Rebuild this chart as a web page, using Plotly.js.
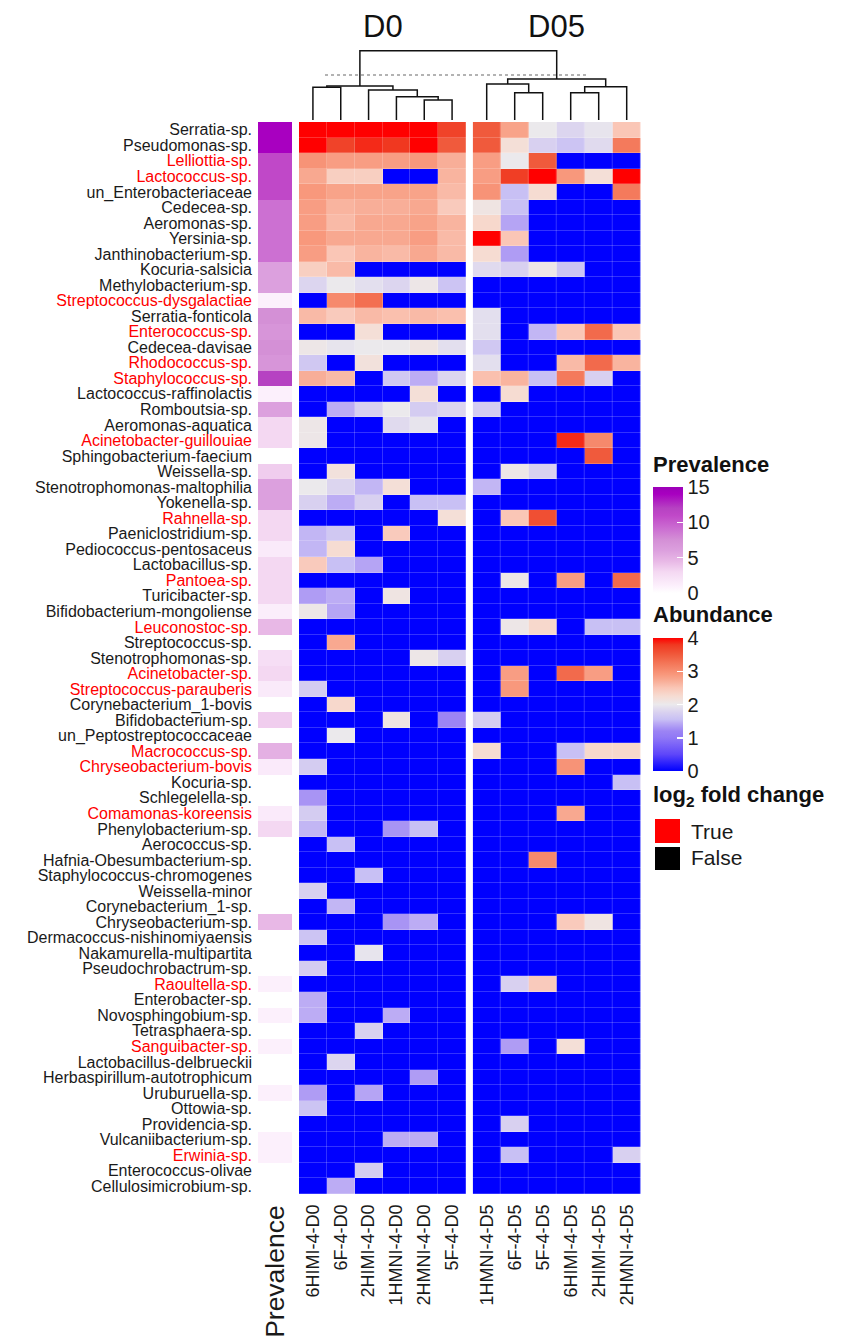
<!DOCTYPE html>
<html>
<head>
<meta charset="utf-8">
<script src="https://cdn.plot.ly/plotly-3.0.1.min.js"></script>
<style>
  html, body { margin: 0; padding: 0; background: #ffffff; }
  #chart { width: 842px; height: 1343px; }
</style>
</head>
<body>
<div id="chart"></div>
<script>
// ---- data ----
const species = [
  'Serratia-sp.', 'Pseudomonas-sp.', 'Lelliottia-sp.', 'Lactococcus-sp.', 'un_Enterobacteriaceae',
  'Cedecea-sp.', 'Aeromonas-sp.', 'Yersinia-sp.', 'Janthinobacterium-sp.', 'Kocuria-salsicia',
  'Methylobacterium-sp.', 'Streptococcus-dysgalactiae', 'Serratia-fonticola', 'Enterococcus-sp.', 'Cedecea-davisae',
  'Rhodococcus-sp.', 'Staphylococcus-sp.', 'Lactococcus-raffinolactis', 'Romboutsia-sp.', 'Aeromonas-aquatica',
  'Acinetobacter-guillouiae', 'Sphingobacterium-faecium', 'Weissella-sp.', 'Stenotrophomonas-maltophilia', 'Yokenella-sp.',
  'Rahnella-sp.', 'Paeniclostridium-sp.', 'Pediococcus-pentosaceus', 'Lactobacillus-sp.', 'Pantoea-sp.',
  'Turicibacter-sp.', 'Bifidobacterium-mongoliense', 'Leuconostoc-sp.', 'Streptococcus-sp.', 'Stenotrophomonas-sp.',
  'Acinetobacter-sp.', 'Streptococcus-parauberis', 'Corynebacterium_1-bovis', 'Bifidobacterium-sp.', 'un_Peptostreptococcaceae',
  'Macrococcus-sp.', 'Chryseobacterium-bovis', 'Kocuria-sp.', 'Schlegelella-sp.', 'Comamonas-koreensis',
  'Phenylobacterium-sp.', 'Aerococcus-sp.', 'Hafnia-Obesumbacterium-sp.', 'Staphylococcus-chromogenes', 'Weissella-minor',
  'Corynebacterium_1-sp.', 'Chryseobacterium-sp.', 'Dermacoccus-nishinomiyaensis', 'Nakamurella-multipartita', 'Pseudochrobactrum-sp.',
  'Raoultella-sp.', 'Enterobacter-sp.', 'Novosphingobium-sp.', 'Tetrasphaera-sp.', 'Sanguibacter-sp.',
  'Lactobacillus-delbrueckii', 'Herbaspirillum-autotrophicum', 'Uruburuella-sp.', 'Ottowia-sp.', 'Providencia-sp.',
  'Vulcaniibacterium-sp.', 'Erwinia-sp.', 'Enterococcus-olivae', 'Cellulosimicrobium-sp.'
];

// significant log2 fold change (label drawn in red when true)
const log2fcSignificant = [
  false, false, true, true, false,
  false, false, false, false, false,
  false, true, false, true, false,
  true, true, false, false, false,
  true, false, false, false, false,
  true, false, false, false, true,
  false, false, true, false, false,
  true, true, false, false, false,
  true, true, false, false, true,
  false, false, false, false, false,
  false, false, false, false, false,
  true, false, false, false, true,
  false, false, false, false, false,
  false, true, false, false
];

const prevalence = [
  14, 14, 11, 11, 11,
  9, 9, 9, 9, 6,
  6, 1, 7.5, 7, 7.5,
  7, 12, 1, 6, 3,
  3, 0, 3.5, 6, 6,
  3, 3, 1.5, 3, 3,
  3, 1.2, 4.5, 0, 2.5,
  3, 1.5, 0, 3.5, 0,
  5, 1.5, 0, 0, 1.5,
  3, 0, 0, 0, 0,
  0, 4.5, 0, 0, 0,
  1, 0, 1, 0, 1,
  0, 0, 1, 0, 0,
  1, 1, 0, 0
];

const samplesD0 = ['6HIMI-4-D0', '6F-4-D0', '2HIMI-4-D0', '1HMNI-4-D0', '2HMNI-4-D0', '5F-4-D0'];
const samplesD05 = ['1HMNI-4-D5', '6F-4-D5', '5F-4-D5', '6HIMI-4-D5', '2HIMI-4-D5', '2HMNI-4-D5'];

const abundanceD0 = [
  [4, 4, 4, 4, 4, 3.7],
  [4, 3.7, 3.85, 3.8, 4, 3.5],
  [2.95, 2.85, 2.85, 2.85, 2.9, 2.7],
  [2.75, 2.4, 2.4, 0, 0, 2.65],
  [2.9, 2.8, 2.8, 2.8, 2.8, 2.6],
  [2.85, 2.65, 2.7, 2.7, 2.75, 2.45],
  [2.85, 2.6, 2.75, 2.75, 2.8, 2.65],
  [2.9, 2.75, 2.75, 2.75, 2.85, 2.6],
  [2.85, 2.5, 2.65, 2.6, 2.75, 2.6],
  [2.4, 2.6, 0, 0, 0, 0],
  [1.8, 2.0, 1.9, 1.8, 2.05, 1.6],
  [0, 3.05, 3.3, 0, 0, 0],
  [2.6, 2.45, 2.6, 2.55, 2.6, 2.55],
  [0, 0, 2.2, 0, 0, 0],
  [2.05, 1.95, 2.0, 2.0, 2.1, 1.9],
  [1.65, 0, 2.15, 0, 0, 0],
  [2.7, 2.6, 0, 1.65, 1.45, 1.8],
  [0, 0, 0, 0, 2.2, 0],
  [0, 1.45, 1.75, 2.0, 1.7, 1.8],
  [2.05, 0, 0, 1.85, 1.95, 0],
  [2.05, 0, 0, 0, 0, 0],
  [0, 0, 0, 0, 0, 0],
  [0, 2.15, 0, 0, 0, 0],
  [2.0, 1.8, 1.5, 2.2, 0, 0],
  [1.75, 1.45, 1.75, 0, 1.55, 1.55],
  [0, 0, 0, 0, 0, 2.2],
  [1.5, 1.65, 0, 2.45, 0, 0],
  [1.5, 2.25, 0, 0, 0, 0],
  [2.45, 1.55, 1.4, 0, 0, 0],
  [0, 0, 0, 0, 0, 0],
  [1.35, 1.45, 0, 2.1, 0, 0],
  [2.05, 1.4, 0, 0, 0, 0],
  [0, 0, 0, 0, 0, 0],
  [0, 2.75, 0, 0, 0, 0],
  [0, 0, 0, 0, 2.05, 1.75],
  [0, 0, 0, 0, 0, 0],
  [1.7, 0, 0, 0, 0, 0],
  [0, 2.3, 0, 0, 0, 0],
  [0, 0, 0, 2.1, 0, 1.2],
  [0, 2.0, 0, 0, 0, 0],
  [0, 0, 0, 0, 0, 0],
  [1.7, 0, 0, 0, 0, 0],
  [0, 0, 0, 0, 0, 0],
  [1.3, 0, 0, 0, 0, 0],
  [1.7, 0, 0, 0, 0, 0],
  [1.5, 0, 0, 1.3, 1.55, 0],
  [0, 1.55, 0, 0, 0, 0],
  [0, 0, 0, 0, 0, 0],
  [0, 0, 1.55, 0, 0, 0],
  [1.75, 0, 0, 0, 0, 0],
  [0, 1.5, 0, 0, 0, 0],
  [0, 0, 0, 1.3, 1.45, 0],
  [1.6, 0, 0, 0, 0, 0],
  [0, 0, 1.95, 0, 0, 0],
  [1.7, 0, 0, 0, 0, 0],
  [0, 0, 0, 0, 0, 0],
  [1.45, 0, 0, 0, 0, 0],
  [1.45, 0, 0, 1.45, 0, 0],
  [0, 0, 1.75, 0, 0, 0],
  [0, 0, 0, 0, 0, 0],
  [0, 1.8, 0, 0, 0, 0],
  [0, 0, 0, 0, 1.35, 0],
  [1.35, 0, 1.4, 0, 0, 0],
  [1.6, 0, 0, 0, 0, 0],
  [0, 0, 0, 0, 0, 0],
  [0, 0, 0, 1.45, 1.45, 0],
  [0, 0, 0, 0, 0, 0],
  [0, 0, 1.7, 0, 0, 0],
  [0, 1.45, 0, 0, 0, 0]
];

const abundanceD05 = [
  [3.5, 2.8, 2.0, 1.8, 1.95, 2.5],
  [3.5, 2.2, 1.75, 1.6, 1.85, 3.2],
  [2.85, 2.0, 3.5, 0, 0, 0],
  [2.85, 3.75, 4.0, 2.9, 2.2, 4.0],
  [2.95, 1.55, 2.25, 0, 0, 3.2],
  [2.1, 1.55, 0, 0, 0, 0],
  [2.3, 1.4, 0, 0, 0, 0],
  [4.0, 2.5, 0, 0, 0, 0],
  [2.25, 1.35, 0, 0, 0, 0],
  [1.85, 1.75, 2.05, 1.6, 0, 0],
  [0, 0, 0, 0, 0, 0],
  [0, 0, 0, 0, 0, 0],
  [1.9, 0, 0, 0, 0, 0],
  [1.9, 0, 1.5, 2.5, 3.35, 2.5],
  [1.65, 0, 0, 0, 0, 0],
  [1.9, 0, 0, 2.6, 3.35, 2.65],
  [2.55, 2.65, 1.55, 3.2, 1.75, 0],
  [0, 2.25, 0, 0, 0, 0],
  [1.7, 0, 0, 0, 0, 0],
  [0, 0, 0, 0, 0, 0],
  [0, 0, 0, 3.85, 3.05, 0],
  [0, 0, 0, 0, 3.5, 0],
  [0, 2.05, 1.75, 0, 0, 0],
  [1.5, 0, 0, 0, 0, 0],
  [0, 0, 0, 0, 0, 0],
  [0, 2.5, 3.6, 0, 0, 0],
  [0, 0, 0, 0, 0, 0],
  [0, 0, 0, 0, 0, 0],
  [0, 0, 0, 0, 0, 0],
  [0, 2.05, 0, 2.85, 0, 3.35],
  [0, 0, 0, 0, 0, 0],
  [0, 0, 0, 0, 0, 0],
  [0, 2.05, 2.3, 0, 1.55, 1.55],
  [0, 0, 0, 0, 0, 0],
  [0, 0, 0, 0, 0, 0],
  [0, 2.85, 0, 3.35, 2.85, 0],
  [0, 2.9, 0, 0, 0, 0],
  [0, 0, 0, 0, 0, 0],
  [1.7, 0, 0, 0, 0, 0],
  [0, 0, 0, 0, 0, 0],
  [2.25, 0, 0, 1.55, 2.3, 2.3],
  [0, 0, 0, 2.95, 0, 0],
  [0, 0, 0, 0, 0, 1.55],
  [0, 0, 0, 0, 0, 0],
  [0, 0, 0, 2.75, 0, 0],
  [0, 0, 0, 0, 0, 0],
  [0, 0, 0, 0, 0, 0],
  [0, 0, 3.05, 0, 0, 0],
  [0, 0, 0, 0, 0, 0],
  [0, 0, 0, 0, 0, 0],
  [0, 0, 0, 0, 0, 0],
  [0, 0, 0, 2.45, 2.1, 0],
  [0, 0, 0, 0, 0, 0],
  [0, 0, 0, 0, 0, 0],
  [0, 0, 0, 0, 0, 0],
  [0, 1.75, 2.45, 0, 0, 0],
  [0, 0, 0, 0, 0, 0],
  [0, 0, 0, 0, 0, 0],
  [0, 0, 0, 0, 0, 0],
  [0, 1.35, 0, 2.2, 0, 0],
  [0, 0, 0, 0, 0, 0],
  [0, 0, 0, 0, 0, 0],
  [0, 0, 0, 0, 0, 0],
  [0, 0, 0, 0, 0, 0],
  [0, 1.75, 0, 0, 0, 0],
  [0, 0, 0, 0, 0, 0],
  [0, 1.55, 0, 0, 0, 1.75],
  [0, 0, 0, 0, 0, 0],
  [0, 0, 0, 0, 0, 0]
];

// column clustering (hclust-style merge table: negative = leaf, positive = earlier merge)
// leaves 1-6 are the D0 samples, 7-12 the D05 samples, in drawing order
const dendroMerge = [[-5, -6], [-4, 1], [-3, 2], [-1, -2], [4, 3], [-8, -9], [-10, -11], [7, -12], [-7, 6], [9, 8], [5, 10]];
const dendroHeight = [20, 23.3, 30, 32.7, 34, 27.3, 27.3, 33.3, 36, 41, 69.3];

const prevalenceTicks = [0, 5, 10, 15];
const abundanceTicks = [0, 1, 2, 3, 4];

// ---- layout helpers (pixel geometry of the 842 x 1343 page) ----
const W = 842, H = 1343;
const fx = px => px / W;
const fy = px => 1 - px / H;
const FONT = 'Liberation Sans, Arial, Helvetica, sans-serif';

const prevLeft = 258, prevRight = 292;
const d0Left = 299, d0Right = 466;
const d5Left = 472.7, d5Right = 640.7;
const heatTop = 122, heatBottom = 1194;
const dendroTop = 40, dendroBottom = 120;

// leaf x positions follow the heatmap column centres
const leafX = [];
for (let i = 0; i < samplesD0.length; i++) leafX.push(d0Left + (i + 0.5) * (d0Right - d0Left) / samplesD0.length);
for (let i = 0; i < samplesD05.length; i++) leafX.push(d5Left + (i + 0.5) * (d5Right - d5Left) / samplesD05.length);

const nodeX = [], nodeY = [];
const segX = [], segY = [];
function childPos(c) {
  return c < 0 ? [leafX[-c - 1], 0] : [nodeX[c - 1], nodeY[c - 1]];
}
dendroMerge.forEach((m, k) => {
  const h = dendroHeight[k];
  const [ax, ay] = childPos(m[0]);
  const [bx, by] = childPos(m[1]);
  segX.push(ax, ax, bx, bx, null);
  segY.push(ay, h, h, by, null);
  nodeX.push((ax + bx) / 2);
  nodeY.push(h);
});

// coloured row labels
const rowText = species.map((s, i) =>
  `<span style="color:${log2fcSignificant[i] ? '#ff0000' : '#1a1a1a'}">${s}</span>`);

const abundanceScale = [
  [0.0, '#0000ff'], [0.125, '#5e46fa'], [0.25, '#9078f6'], [0.3, '#9c84f4'],
  [0.325, '#a894f4'], [0.3625, '#bcacf4'], [0.3875, '#c8c0f4'], [0.4375, '#d8d0f0'],
  [0.5, '#ebe9ec'], [0.5625, '#f6dcd2'], [0.625, '#fac6b6'], [0.6875, '#f8a890'],
  [0.725, '#f8987c'], [0.8, '#f47a5c'], [0.875, '#f05a3c'], [0.95, '#f03820'], [1.0, '#ff0000']
];
const prevalenceScale = [
  [0.0, '#ffffff'], [0.067, '#fcf0fc'], [0.2, '#f4d8f2'], [0.3, '#e8b8e6'],
  [0.4, '#dca0de'], [0.5, '#d490d6'], [0.6, '#cc70d2'], [0.733, '#c048c8'],
  [0.8, '#b642c2'], [0.933, '#a800c0'], [1.0, '#9c00b8']
];

const traces = [
  {
    type: 'heatmap', name: 'Prevalence',
    x: ['Prevalence'], y: species,
    z: prevalence.map(v => [v]),
    coloraxis: 'coloraxis2', xaxis: 'x', yaxis: 'y',
    hoverinfo: 'skip'
  },
  {
    type: 'heatmap', name: 'D0',
    x: samplesD0, y: species, z: abundanceD0,
    coloraxis: 'coloraxis', xaxis: 'x2', yaxis: 'y',
    xgap: 0.2, ygap: 0.2, hoverinfo: 'skip'
  },
  {
    type: 'heatmap', name: 'D05',
    x: samplesD05, y: species, z: abundanceD05,
    coloraxis: 'coloraxis', xaxis: 'x3', yaxis: 'y',
    xgap: 0.2, ygap: 0.2, hoverinfo: 'skip'
  },
  {
    type: 'scatter', mode: 'lines', name: 'dendrogram',
    x: segX, y: segY, xaxis: 'x4', yaxis: 'y2',
    line: { color: '#111111', width: 1.5 },
    connectgaps: false, hoverinfo: 'skip', showlegend: false
  }
];

const catAxis = {
  type: 'category', showgrid: false, zeroline: false, showline: false,
  ticks: '', tickangle: -90, ticklabelstandoff: 6,
  tickfont: { family: FONT, size: 18, color: '#1a1a1a' }, fixedrange: true
};

const legendTitleFont = { family: FONT, size: 22, color: '#111111', weight: 'bold' };

const layout = {
  width: W, height: H,
  margin: { l: 0, r: 0, t: 0, b: 0 },
  paper_bgcolor: '#ffffff', plot_bgcolor: '#ffffff',
  font: { family: FONT, color: '#1a1a1a' },
  showlegend: false,
  xaxis: Object.assign({}, catAxis, {
    domain: [fx(prevLeft), fx(prevRight)], anchor: 'y', ticklabelstandoff: 5,
    tickfont: { family: FONT, size: 26.5, color: '#1a1a1a' }
  }),
  xaxis2: Object.assign({}, catAxis, { domain: [fx(d0Left), fx(d0Right)], anchor: 'y' }),
  xaxis3: Object.assign({}, catAxis, { domain: [fx(d5Left), fx(d5Right)], anchor: 'y' }),
  yaxis: {
    type: 'category', domain: [fy(heatBottom), fy(heatTop)], anchor: 'x',
    range: [species.length - 0.5, -0.5],
    tickmode: 'array', tickvals: species, ticktext: rowText,
    ticks: '', ticklabelstandoff: 5, showgrid: false, zeroline: false, showline: false,
    tickfont: { family: FONT, size: 16, color: '#1a1a1a' }, fixedrange: true
  },
  xaxis4: { domain: [fx(d0Left), fx(d5Right)], range: [d0Left, d5Right], anchor: 'y2', visible: false, fixedrange: true },
  yaxis2: { domain: [fy(dendroBottom), fy(dendroTop)], range: [0, dendroBottom - dendroTop], anchor: 'x4', visible: false, fixedrange: true },
  coloraxis: {
    cmin: 0, cmax: 4, colorscale: abundanceScale,
    colorbar: {
      x: fx(653), xanchor: 'left', y: fy(638), yanchor: 'top',
      len: 133, lenmode: 'pixels', thickness: 30, thicknessmode: 'pixels',
      xpad: 0, ypad: 0, outlinewidth: 0,
      tickmode: 'array', tickvals: abundanceTicks,
      ticks: 'inside', ticklen: 6, tickwidth: 1.5, tickcolor: '#ffffff',
      tickfont: { family: FONT, size: 20, color: '#1a1a1a' }
    }
  },
  coloraxis2: {
    cmin: 0, cmax: 15, colorscale: prevalenceScale,
    colorbar: {
      x: fx(653), xanchor: 'left', y: fy(487), yanchor: 'top',
      len: 106, lenmode: 'pixels', thickness: 30, thicknessmode: 'pixels',
      xpad: 0, ypad: 0, outlinewidth: 0,
      tickmode: 'array', tickvals: prevalenceTicks,
      ticks: 'inside', ticklen: 6, tickwidth: 1.5, tickcolor: '#ffffff',
      tickfont: { family: FONT, size: 20, color: '#1a1a1a' }
    }
  },
  shapes: [
    // clustering cut line
    { type: 'line', xref: 'x4', yref: 'y2', x0: 325, x1: 587, y0: 45, y1: 45,
      line: { color: '#9a9a9a', width: 1.5, dash: 'dot' } },
    // log2 fold change keys
    { type: 'rect', xref: 'paper', yref: 'paper', x0: fx(655), x1: fx(680), y0: fy(843), y1: fy(819),
      fillcolor: '#ff0000', line: { width: 0 } },
    { type: 'rect', xref: 'paper', yref: 'paper', x0: fx(655), x1: fx(680), y0: fy(870), y1: fy(847),
      fillcolor: '#000000', line: { width: 0 } }
  ],
  annotations: [
    { text: 'D0', xref: 'paper', yref: 'paper', x: fx((d0Left + d0Right) / 2), y: fy(26),
      xanchor: 'center', yanchor: 'middle', showarrow: false, font: { family: FONT, size: 31, color: '#111111' } },
    { text: 'D05', xref: 'paper', yref: 'paper', x: fx((d5Left + d5Right) / 2), y: fy(26),
      xanchor: 'center', yanchor: 'middle', showarrow: false, font: { family: FONT, size: 31, color: '#111111' } },
    { text: 'Prevalence', xref: 'paper', yref: 'paper', x: fx(651), y: fy(465),
      xanchor: 'left', yanchor: 'middle', showarrow: false, font: legendTitleFont },
    { text: 'Abundance', xref: 'paper', yref: 'paper', x: fx(651), y: fy(614),
      xanchor: 'left', yanchor: 'middle', showarrow: false, font: legendTitleFont },
    { text: 'log<sub>2</sub> fold change', xref: 'paper', yref: 'paper', x: fx(651), y: fy(796),
      xanchor: 'left', yanchor: 'middle', showarrow: false, font: legendTitleFont },
    { text: 'True', xref: 'paper', yref: 'paper', x: fx(689), y: fy(831),
      xanchor: 'left', yanchor: 'middle', showarrow: false, font: { family: FONT, size: 21, color: '#1a1a1a' } },
    { text: 'False', xref: 'paper', yref: 'paper', x: fx(689), y: fy(858),
      xanchor: 'left', yanchor: 'middle', showarrow: false, font: { family: FONT, size: 21, color: '#1a1a1a' } }
  ]
};

Plotly.newPlot('chart', traces, layout, { staticPlot: true, displayModeBar: false });
</script>
</body>
</html>
